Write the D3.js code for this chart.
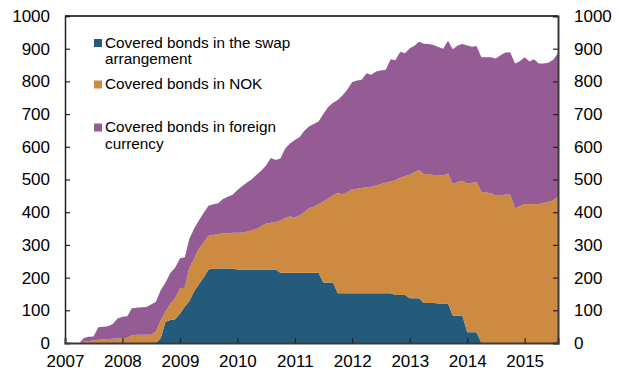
<!DOCTYPE html>
<html>
<head>
<meta charset="utf-8">
<script src="https://cdn.jsdelivr.net/npm/d3@7"></script>
<style>
  html, body { margin: 0; padding: 0; background: #fff; }
  svg { display: block; font-family: "Liberation Sans", Arial, sans-serif; }
</style>
</head>
<body>
<svg id="chart" width="621" height="373"></svg>
<script>
// Monthly data, January 2007 – August 2015 (NOK billion)
const startMonth = "2007-01";
const seriesNames = ["Covered bonds in the swap arrangement", "Covered bonds in NOK", "Covered bonds in foreign currency"];
const swap = [
  0,0,0,0,0,0,0,0,0,0,0,0,
  0,0,0,0,0,0,0,0,15,65,70,73,
  90,112,128,158,180,200,225,228,228,228,228,227,
  225,225,225,225,225,225,225,225,225,215,215,215,
  215,215,215,215,215,215,185,185,185,152,152,152,
  152,152,152,152,152,152,152,152,152,147,147,147,
  137,137,137,122,122,122,121,121,121,84,84,84,
  33,33,33,0,0,0,0,0,0,0,0,0,
  0,0,0,0,0,0,0,0
];
const nok = [
  0,0,0,0,4,6,8,10,11,12,13,14,
  14,16,24,25,25,25,25,35,55,31,51,64,
  77,58,102,100,108,108,103,102,105,107,107,110,
  112,113,115,120,123,133,140,143,145,160,167,172,
  169,176,185,197,202,210,247,257,267,306,303,310,
  318,320,322,324,326,330,334,338,342,351,358,363,
  378,385,392,394,395,392,393,391,397,402,408,412,
  455,457,460,462,460,458,450,452,454,453,412,418,
  425,425,424,425,428,431,436,448
];
const foreign = [
  0,0,0,0,11,13,12,38,39,39,45,61,
  66,66,82,83,84,85,93,91,92,89,94,93,
  92,92,88,92,87,90,92,94,94,105,112,116,
  131,142,150,155,166,169,177,198,190,189,213,223,
  237,239,248,250,253,252,268,280,283,285,303,313,
  328,331,331,349,342,348,347,346,374,367,386,376,
  386,388,392,399,397,397,391,388,406,412,418,418,
  422,416,415,412,414,416,420,428,434,436,443,444,
  449,436,444,430,427,426,430,438
];
const yTicks = [0,100,200,300,400,500,600,700,800,900,1000];
const xTickYears = [2007,2008,2009,2010,2011,2012,2013,2014,2015];
const colors = ["#245a7a", "#cd8b42", "#955b94"];
const legendLines = [["Covered bonds in the swap", "arrangement"], ["Covered bonds in NOK"], ["Covered bonds in foreign", "currency"]];

const svg = d3.select("#chart");
const m = { left: 65, right: 558, top: 16, bottom: 343 };

const parse = d3.timeParse("%Y-%m");
const t0 = parse(startMonth);
const rows = swap.map((v, i) => ({
  date: d3.timeMonth.offset(t0, i),
  swap: v, nok: nok[i], foreign: foreign[i]
}));

const x = d3.scaleTime()
  .domain([t0, rows[rows.length - 1].date])
  .range([m.left, m.right]);
const y = d3.scaleLinear().domain([0, 1000]).range([m.bottom, m.top]);

const stack = d3.stack().keys(["swap", "nok", "foreign"]);
const layers = stack(rows);

const area = d3.area()
  .x(d => x(d.data.date))
  .y0(d => y(d[0]))
  .y1(d => y(d[1]));

svg.append("g").selectAll("path")
  .data(layers)
  .join("path")
  .attr("d", area)
  .attr("fill", (d, i) => colors[i]);

// frame
svg.append("line").attr("x1", m.left).attr("x2", m.right).attr("y1", m.top).attr("y2", m.top)
  .attr("stroke", "#000").attr("stroke-width", 1.5);

// left axis
const yl = d3.axisLeft(y).tickValues(yTicks).tickFormat(d3.format("d")).tickSize(-5).tickPadding(15);
const gl = svg.append("g").attr("transform", `translate(${m.left},0)`).call(yl);
gl.select(".domain").attr("stroke", "#222").attr("stroke-width", 1.5);

// right axis
const yr = d3.axisRight(y).tickValues(yTicks).tickFormat(d3.format("d")).tickSize(-5).tickPadding(16);
const gr = svg.append("g").attr("transform", `translate(${m.right},0)`).call(yr);
gr.select(".domain").attr("stroke", "#3a3a3a").attr("stroke-width", 2);

// bottom axis
const xb = d3.axisBottom(x)
  .tickValues(xTickYears.map(yr => new Date(yr, 0, 1)))
  .tickFormat(d3.timeFormat("%Y"))
  .tickSize(-5).tickPadding(12);
const gb = svg.append("g").attr("transform", `translate(0,${m.bottom})`).call(xb);
gb.select(".domain").attr("stroke", "#3a3a3a").attr("stroke-width", 2);

[gl, gr, gb].forEach(g => {
  g.selectAll(".tick line").attr("stroke", "#222").attr("stroke-width", 1.2);
  g.selectAll(".tick text").attr("fill", "#000").style("font-size", "17px")
    .style("font-family", "'Liberation Sans', Arial, sans-serif");
});
gb.selectAll(".tick").filter(d => d.getFullYear() === 2007).select("line").remove();

// legend
const legendY = [42.5, 84, 127];
const leg = svg.append("g");
legendLines.forEach((lines, i) => {
  leg.append("rect").attr("x", 94).attr("y", legendY[i] - 3.5).attr("width", 8).attr("height", 8)
    .attr("fill", colors[i]);
  const t = leg.append("text").attr("x", 105).attr("y", legendY[i] + 5)
    .style("font-size", "15.3px").attr("fill", "#000");
  lines.forEach((s, j) => {
    t.append("tspan").attr("x", 105).attr("dy", j === 0 ? 0 : 16.5).text(s);
  });
});
</script>
</body>
</html>
